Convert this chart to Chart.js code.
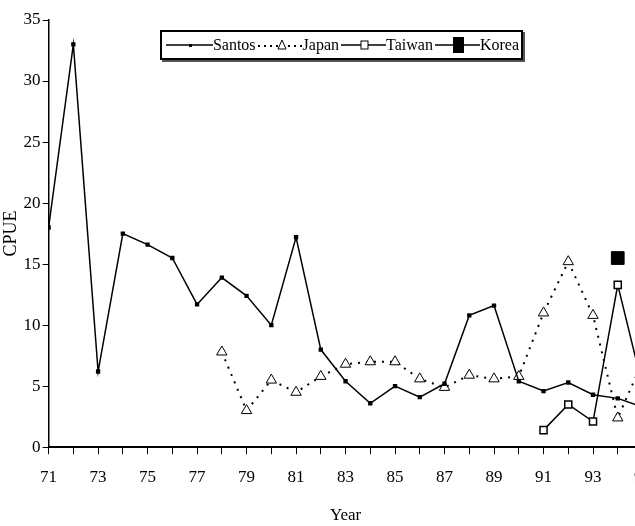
<!DOCTYPE html>
<html><head><meta charset="utf-8">
<script src="https://cdn.jsdelivr.net/npm/chart.js@4/dist/chart.umd.min.js"></script>
<style>
body{margin:0;background:#fff;overflow:hidden;font-family:"Liberation Serif",serif}
#wrap{position:relative;width:664px;height:526px}
#legend{position:absolute;left:160px;top:30px;width:363px;height:30px;border:2px solid #000;box-shadow:2px 2px 0 #555;background:#fff;display:flex;align-items:center;font-size:16px;padding-left:4px;box-sizing:border-box}
#legend span{margin-right:2px}
</style></head><body>
<div id="wrap"><canvas id="c" width="664" height="526"></canvas>
<div id="legend">
<svg width="50" height="12"><line x1="0" y1="6" x2="50" y2="6" stroke="#000" stroke-width="1.5"/><rect x="23" y="5" width="3" height="3" fill="#000"/></svg><span>Santos</span>
<svg width="48" height="14"><line x1="0" y1="8" x2="48" y2="8" stroke="#000" stroke-dasharray="2 4" stroke-width="2"/><polygon points="24,2 20,11 28,11" fill="#fff" stroke="#000"/></svg><span>Japan</span>
<svg width="48" height="14"><line x1="0" y1="7" x2="48" y2="7" stroke="#000" stroke-width="1.5"/><rect x="20" y="3" width="7" height="8" fill="#fff" stroke="#000"/></svg><span>Taiwan</span>
<svg width="48" height="18"><line x1="0" y1="9" x2="48" y2="9" stroke="#000" stroke-width="1.5"/><rect x="18" y="1" width="11" height="16" fill="#000"/></svg><span>Korea</span>
</div></div>
<script>
const years = [71,72,73,74,75,76,77,78,79,80,81,82,83,84,85,86,87,88,89,90,91,92,93,94,95];
const santos = [18,33,6.2,17.5,16.6,15.5,11.7,13.9,12.4,10,17.2,8,5.4,3.6,5,4.1,5.2,10.8,11.6,5.4,4.6,5.3,4.3,4,3.3];
const japanYears = [78,79,80,81,82,83,84,85,86,87,88,89,90,91,92,93,94,95];
const japan = [7.8,3,5.5,4.5,5.8,6.8,7,7,5.6,4.9,5.9,5.6,5.8,11,15.2,10.8,2.4,7];
const taiwanYears = [91,92,93,94,95];
const taiwan = [1.4,3.5,2.1,13.3,5];
const koreaYears = [94];
const korea = [15.5];
const yTicks = [0,5,10,15,20,25,30,35];

const pts = (xs, ys) => xs.map((x, i) => ({x, y: ys[i]}));
const font = {family: '"Liberation Serif", serif', size: 17};

new Chart(document.getElementById('c'), {
  type: 'line',
  data: {datasets: [
    {label: 'Santos', data: pts(years, santos), borderColor: '#000', borderWidth: 1.5, pointStyle: 'rect', pointRadius: 2, backgroundColor: '#000', pointBorderColor: '#000'},
    {label: 'Japan', data: pts(japanYears, japan), borderColor: '#000', borderWidth: 2, borderDash: [2, 6], pointStyle: 'triangle', pointRadius: 6, pointBackgroundColor: '#fff', pointBorderColor: '#000', pointBorderWidth: 1},
    {label: 'Taiwan', data: pts(taiwanYears, taiwan), borderColor: '#000', borderWidth: 1.5, pointStyle: 'rect', pointRadius: 5, pointBackgroundColor: '#fff', pointBorderColor: '#000', pointBorderWidth: 1.5},
    {label: 'Korea', data: pts(koreaYears, korea), borderColor: '#000', pointStyle: 'rect', pointRadius: 9, pointBackgroundColor: '#000', pointBorderColor: '#000'}
  ]},
  options: {
    responsive: false, animation: false,
    layout: {padding: {top: 20, right: 0, left: 0, bottom: 0}},
    plugins: {legend: {display: false}, tooltip: {enabled: false}},
    scales: {
      x: {type: 'linear', min: 71, max: 95,
        border: {color: '#000', width: 2},
        grid: {drawOnChartArea: false, color: '#000', tickLength: 7},
        ticks: {stepSize: 1, autoSkip: false, maxRotation: 0, color: '#000', font, padding: 13,
          callback: v => (v % 2 === 1 ? String(v) : '')},
        title: {display: true, text: 'Year', color: '#000', font, padding: {top: 5, bottom: 0}}},
      y: {min: 0, max: 35,
        afterBuildTicks: s => { s.ticks = yTicks.map(v => ({value: v})); },
        border: {color: '#000', width: 1.5},
        grid: {drawOnChartArea: false, color: '#000', tickLength: 6},
        ticks: {color: '#000', font, padding: 2},
        title: {display: true, text: 'CPUE', color: '#000', font: {family: font.family, size: 18}, padding: 0}}
    }
  }
});
</script>
</body></html>
